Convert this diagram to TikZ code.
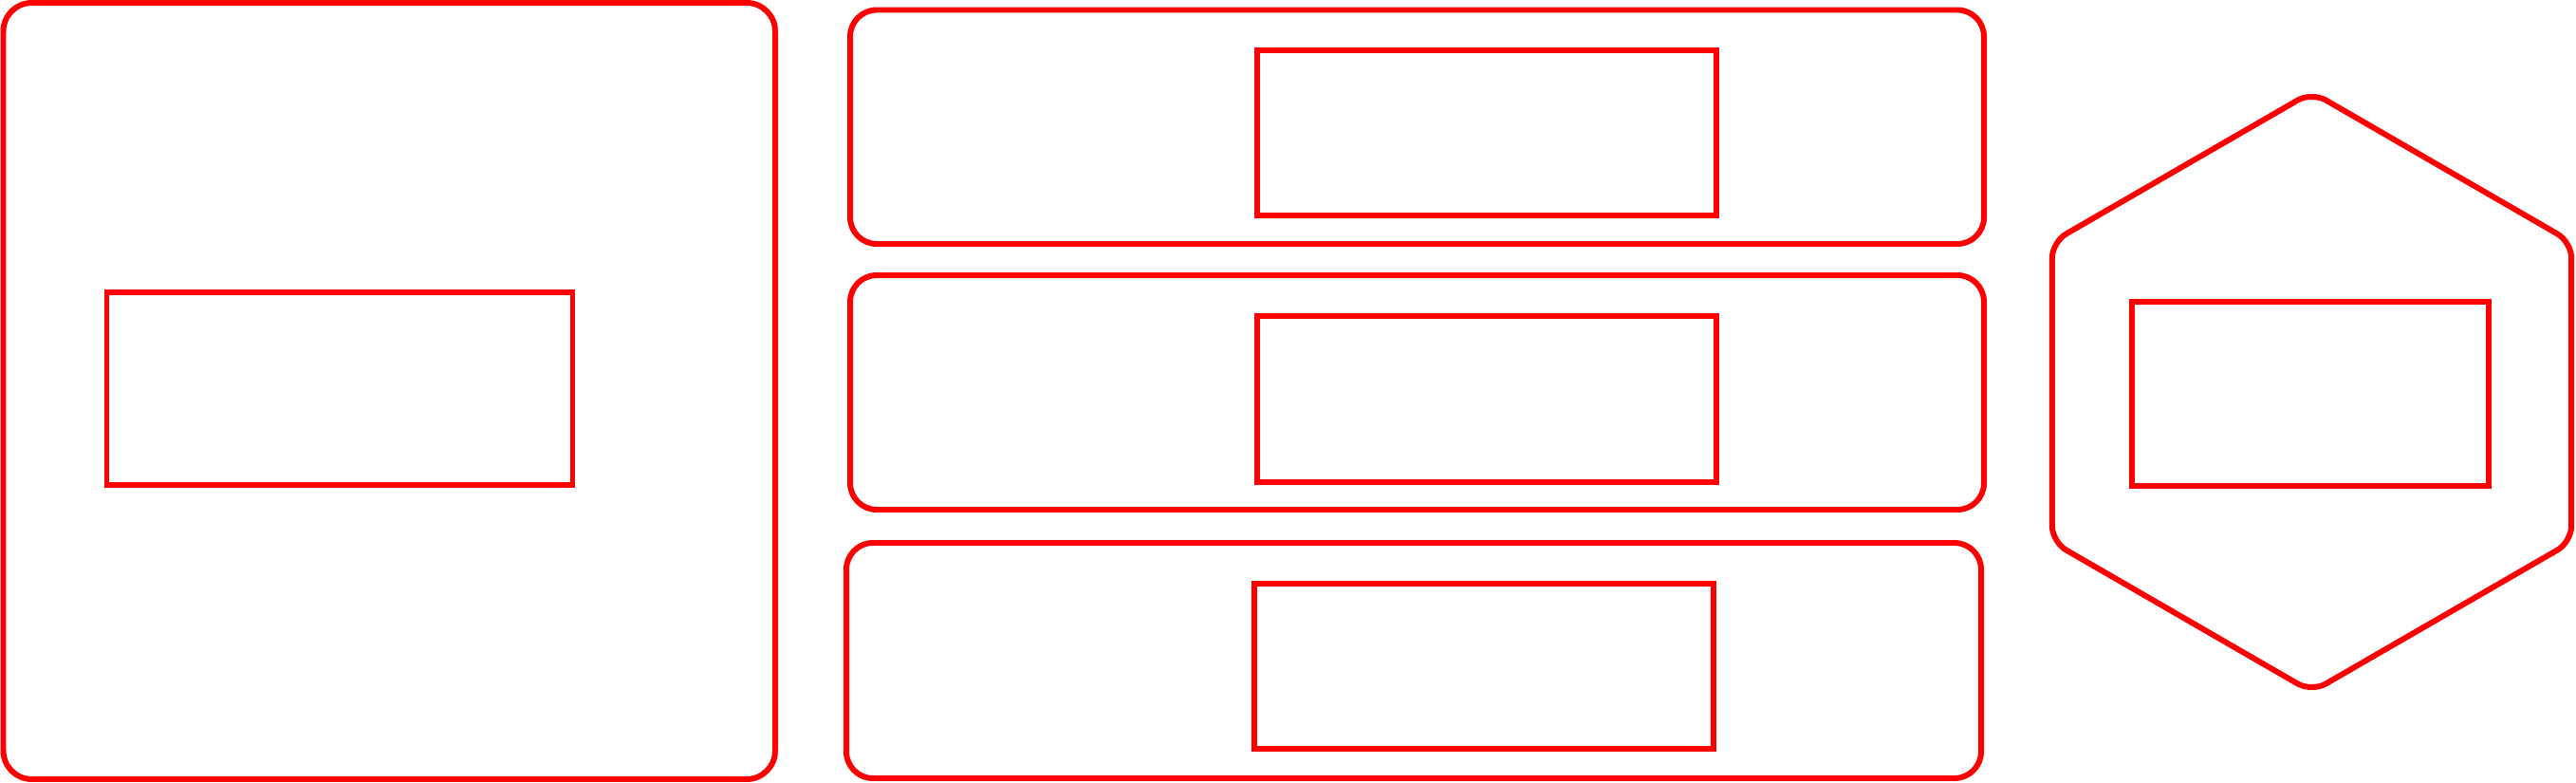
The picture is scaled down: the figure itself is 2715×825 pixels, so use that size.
\documentclass[tikz,border=0pt]{standalone}
\usepackage{xcolor}
\usepackage{tikz}

\begin{document}
\begin{tikzpicture}[x=0.01cm, y=-0.01cm, frame/.style={draw=red, line width=1.7pt}]
\useasboundingbox (0, 0) rectangle (2715, 825);

\draw[frame, rounded corners=0.3cm] (3.5, 3) rectangle (817, 821);
\draw[frame] (112.5, 308) rectangle (603.5, 511);

\draw[frame, rounded corners=0.28cm] (896, 10.5) rectangle (2091, 257);
\draw[frame] (1325, 53) rectangle (1809, 227);

\draw[frame, rounded corners=0.28cm] (896, 290) rectangle (2091, 537);
\draw[frame] (1325, 333) rectangle (1809, 508);

\draw[frame, rounded corners=0.28cm] (892, 572) rectangle (2088, 820);
\draw[frame] (1322, 615) rectangle (1806, 789);

\draw[frame, rounded corners=0.17cm] (2162.8, 413) -- (2162.8, 255) -- (2436.5, 97) -- (2710.2, 255)
  -- (2710.2, 571) -- (2436.5, 729) -- (2162.8, 571) -- cycle;
\draw[frame] (2247, 318) rectangle (2623, 512);
\end{tikzpicture}
\end{document}
